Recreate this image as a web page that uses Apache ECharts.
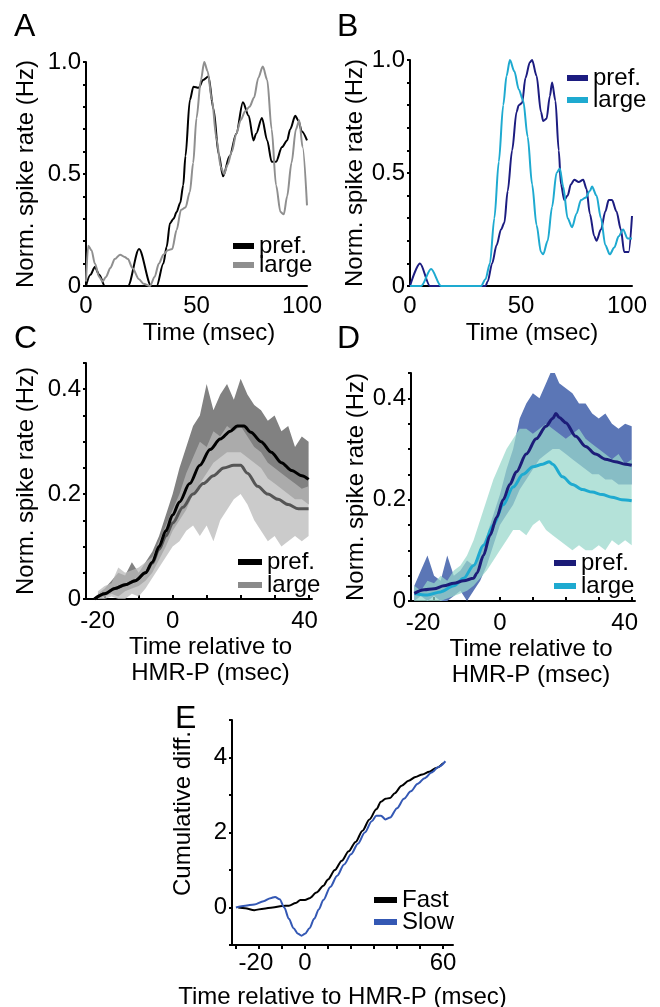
<!DOCTYPE html>
<html>
<head>
<meta charset="utf-8">
<script src="https://cdn.jsdelivr.net/npm/echarts@6/dist/echarts.min.js"></script>
<style>html,body{margin:0;padding:0;background:#fff}#c{width:660px;height:1007px}</style>
</head>
<body>
<div id="c"></div>
<script>
// ---------- DATA ----------
// Panel A (time, norm. rate)
const aPref = [[0,0],[2,0.05],[4,0.085],[6,0.05],[8.5,0],[19,0],[24,0.165],[29.5,0],[32,0],[35,0.1],[36.5,0.175],[38,0.28],[39.6,0.3],[41,0.33],[42.6,0.37],[44,0.45],[45,0.58],[47,0.83],[48.6,0.89],[51,0.885],[53,0.92],[55.4,0.935],[57.7,0.79],[60,0.59],[62,0.49],[65,0.58],[68,0.68],[71,0.82],[73.6,0.76],[75.8,0.65],[77,0.68],[79.6,0.75],[82,0.65],[84,0.555],[86,0.555],[88.7,0.62],[91,0.65],[92.4,0.7],[94.7,0.76],[96,0.74],[97.7,0.69],[100,0.65]];
const aLarge = [[0,0.02],[1,0.18],[2.5,0.16],[4,0.1],[6,0.04],[7.5,0.02],[9,0.04],[11,0.08],[13,0.12],[15.4,0.14],[17.5,0.13],[19,0.12],[21,0.08],[24,0.03],[26,0.01],[29,0],[31,0.04],[33,0.1],[35,0.14],[37,0.16],[39,0.165],[41,0.25],[43,0.34],[45,0.35],[47,0.42],[48.5,0.55],[50,0.75],[52,0.92],[53.5,1.0],[55,0.96],[57,0.83],[59,0.66],[61,0.53],[62.5,0.5],[64,0.54],[66,0.6],[68,0.68],[70,0.74],[72,0.78],[74,0.8],[76,0.84],[78,0.93],[80,0.98],[82,0.92],[84,0.7],[86,0.45],[88,0.33],[89.5,0.32],[91,0.4],[93,0.55],[95,0.7],[96.5,0.74],[98,0.62],[100,0.36]];
// Panel B
const bPref = [[0,0],[4.5,0.1],[9,0],[14,0],[34,0],[35,0.02],[37,0.1],[39,0.18],[41,0.25],[42.5,0.28],[44,0.42],[46,0.6],[48,0.77],[49,0.8],[50.5,0.81],[52,0.92],[54,0.99],[55,1.0],[57,0.93],[59,0.77],[60,0.73],[61.5,0.74],[63,0.84],[64,0.9],[65.5,0.82],[67,0.6],[68,0.45],[69.5,0.38],[71,0.4],[72.5,0.45],[74,0.47],[76,0.46],[78,0.47],[79.5,0.43],[81,0.32],[83,0.22],[84,0.2],[86,0.25],[88,0.33],[89.5,0.38],[91,0.38],[93,0.33],[95,0.25],[96.5,0.15],[98.5,0.15],[100,0.31]];
const bLarge = [[0,0],[5,0],[9.5,0.075],[14,0],[32,0],[34,0.03],[36,0.1],[38,0.3],[40,0.55],[42,0.8],[43.5,0.93],[45,1.0],[47,0.95],[49,0.87],[51,0.82],[53,0.66],[55,0.45],[57,0.27],[59,0.15],[60,0.14],[62,0.2],[64,0.35],[66,0.5],[67.5,0.52],[69,0.44],[71,0.3],[73,0.26],[75,0.32],[77,0.38],[79,0.39],[81,0.42],[82,0.44],[84,0.4],[86,0.3],[88,0.18],[90,0.14],[92,0.17],[94,0.22],[96,0.25],[98,0.21],[100,0.21]];
// Panel C: means and bands
const cPref = [[-23,0],[-20,0.01],[-17,0.02],[-14,0.027],[-11,0.035],[-8,0.05],[-6,0.07],[-4,0.1],[-2,0.13],[0,0.16],[2,0.185],[5,0.22],[8,0.255],[11,0.285],[14,0.305],[17,0.32],[19,0.33],[21,0.33],[23,0.318],[26,0.3],[29,0.28],[32,0.26],[35,0.245],[38,0.235],[40,0.228]];
const cLarge = [[-23,0],[-20,0.01],[-17,0.02],[-14,0.027],[-11,0.035],[-8,0.05],[-6,0.068],[-4,0.095],[-2,0.12],[0,0.145],[3,0.175],[6,0.2],[9,0.22],[12,0.235],[15,0.25],[18,0.255],[20,0.255],[22,0.24],[25,0.215],[28,0.2],[31,0.19],[34,0.18],[37,0.172],[40,0.172]];
const cBandT = [-22,-20,-18,-16,-14,-12,-10,-8,-6,-4,-2,0,2,4,6,8,10,12,14,16,18,20,22,24,26,28,30,32,34,36,38,40];
const cPrefHi = [0.01,0.02,0.035,0.05,0.045,0.07,0.05,0.07,0.09,0.12,0.16,0.2,0.25,0.29,0.33,0.35,0.41,0.36,0.39,0.41,0.38,0.42,0.39,0.37,0.36,0.34,0.35,0.32,0.33,0.29,0.31,0.30];
const cPrefLo = [0,0.005,0.01,0.005,0.015,0.02,0.025,0.035,0.05,0.075,0.1,0.13,0.15,0.17,0.2,0.22,0.24,0.26,0.27,0.28,0.28,0.28,0.27,0.26,0.25,0.23,0.22,0.21,0.2,0.19,0.19,0.18];
const cLargeHi = [0.015,0.025,0.03,0.06,0.05,0.055,0.06,0.07,0.08,0.11,0.14,0.17,0.2,0.24,0.27,0.30,0.29,0.32,0.31,0.33,0.32,0.33,0.31,0.29,0.28,0.26,0.25,0.24,0.23,0.22,0.21,0.215];
const cLargeLo = [0,0,0.005,0,0,0.01,0.005,0.02,0.04,0.06,0.08,0.1,0.11,0.13,0.14,0.12,0.14,0.11,0.15,0.17,0.19,0.2,0.18,0.15,0.13,0.11,0.12,0.1,0.11,0.12,0.11,0.12];
// Panel D: means and bands
const dPref = [[-26,0.015],[-23,0.022],[-20,0.024],[-17,0.03],[-14,0.035],[-11,0.04],[-8,0.045],[-7,0.055],[-5,0.09],[-3,0.13],[-1,0.165],[1,0.2],[3,0.23],[5,0.255],[8,0.29],[11,0.32],[14,0.345],[16,0.36],[17,0.37],[18,0.362],[20,0.352],[23,0.325],[26,0.305],[29,0.29],[32,0.28],[35,0.275],[38,0.27],[40,0.268]];
const dLarge = [[-26,0.015],[-22,0.012],[-18,0.018],[-14,0.03],[-11,0.045],[-8,0.07],[-5,0.11],[-2,0.15],[1,0.19],[4,0.225],[7,0.25],[10,0.265],[13,0.27],[15,0.275],[16,0.27],[19,0.245],[22,0.23],[25,0.22],[28,0.215],[31,0.21],[34,0.205],[37,0.2],[40,0.198]];
const dBandT = [-26,-24,-22,-20,-18,-16,-14,-12,-10,-8,-6,-4,-2,0,2,4,6,8,10,12,14,16,18,20,22,24,26,28,30,32,34,36,38,40];
const dPrefHi = [0.03,0.06,0.09,0.05,0.04,0.09,0.05,0.06,0.08,0.07,0.1,0.13,0.17,0.21,0.26,0.3,0.36,0.39,0.41,0.4,0.43,0.46,0.43,0.42,0.41,0.39,0.39,0.37,0.36,0.37,0.35,0.34,0.35,0.345];
const dPrefLo = [0,0.01,0,0.01,0,0,0.01,0.02,0,0.02,0.04,0.07,0.11,0.15,0.17,0.19,0.22,0.24,0.26,0.28,0.29,0.3,0.3,0.29,0.28,0.27,0.26,0.25,0.25,0.24,0.24,0.23,0.23,0.23];
const dLargeHi = [0.03,0.02,0.04,0.035,0.05,0.04,0.06,0.07,0.09,0.12,0.16,0.2,0.24,0.27,0.3,0.32,0.34,0.34,0.33,0.34,0.35,0.34,0.33,0.32,0.33,0.34,0.32,0.31,0.3,0.29,0.28,0.29,0.27,0.28];
const dLargeLo = [0,0,0,0,0,0.005,0.01,0.015,0.02,0.03,0.045,0.06,0.08,0.1,0.12,0.14,0.14,0.13,0.15,0.16,0.14,0.13,0.12,0.11,0.1,0.11,0.1,0.1,0.11,0.1,0.12,0.11,0.12,0.11];
// Panel E
const eFast = [[-29,0],[-26,-0.02],[-22,-0.07],[-18,-0.03],[-14,0],[-10,0.04],[-7,0.05],[-4,0.12],[-2,0.2],[0,0.2],[2,0.25],[5,0.4],[8,0.58],[10,0.75],[13,1.0],[16,1.25],[19,1.5],[22,1.75],[25,2.05],[28,2.35],[31,2.62],[33,2.82],[35,2.9],[37,2.92],[39,3.05],[42,3.25],[45,3.38],[48,3.48],[51,3.55],[54,3.62],[57,3.72],[60,3.85]];
const eSlow = [[-30,0],[-26,0.05],[-22,0.08],[-18,0.17],[-15,0.25],[-13,0.28],[-11,0.22],[-9,0],[-7,-0.3],[-5,-0.55],[-3,-0.7],[-1.5,-0.75],[0,-0.7],[2,-0.55],[4,-0.3],[6,-0.05],[8,0.2],[11,0.55],[14,0.85],[17,1.15],[20,1.42],[23,1.7],[26,2.0],[29,2.3],[31,2.45],[33,2.45],[35,2.35],[37,2.4],[40,2.65],[43,2.9],[46,3.1],[49,3.3],[52,3.45],[55,3.6],[58,3.75],[61,3.9]];
// Tick / label values
const abYTicks = [0,0.1,0.2,0.3,0.4,0.5,0.6,0.7,0.8,0.9,1.0];
const abYLabels = [0,0.5,1.0];
const abXLabels = [0,50,100];
const cdYTicks = [0,0.05,0.1,0.15,0.2,0.25,0.3,0.35,0.4,0.45];
const cdYLabels = [0,0.2,0.4];
const cdXTicks = [-20,-10,0,10,20,30,40];
const cdXLabels = [-20,0,40];
const eYTicks = [-1,0,1,2,3,4,5];
const eYLabels = [0,2,4];
const eXTicks = [-30,-20,-10,0,10,20,30,40,50,60];
const eXLabels = [-20,0,60];

// ---------- CHART ----------
const FONT = '"Liberation Sans", Arial, Helvetica, sans-serif';
const FS = 24;
const chart = echarts.init(document.getElementById('c'), null, {renderer:'canvas'});

const grids = [
  {left:86, top:62, width:221, height:224},
  {left:410, top:60, width:222, height:226},
  {left:86, top:363, width:226, height:236},
  {left:411, top:373, width:224, height:228},
  {left:232, top:720, width:221, height:225}
].map(g => Object.assign({outerBoundsMode:'none', containLabel:false, show:false}, g));

const axLine = {show:true, onZero:false, lineStyle:{color:'#000', width:2}};
// shifts: label value -> px to nudge the label left (as in the reference typesetting)
function xAx(i, min, max, ticks, labels, inside, margin, name, nameGap, padL, lh, shifts) {
  const rich = {};
  Object.values(shifts || {}).forEach(s => {
    rich['p' + s] = {padding:[0, 2*s, 0, 0], fontSize:FS, fontFamily:FONT, color:'#000'};
  });
  return {
    type:'value', gridIndex:i, min, max, splitLine:{show:false},
    axisLine:axLine,
    axisTick: ticks ? {show:true, customValues:ticks, inside, length:4, lineStyle:{color:'#000', width:2}} : {show:false},
    axisLabel:{customValues:labels, fontSize:FS, fontFamily:FONT, color:'#000', margin, rich,
      formatter: v => (shifts && shifts[v]) ? '{p' + shifts[v] + '|' + v + '}' : String(v)},
    name, nameLocation:'middle', nameGap,
    nameTextStyle:{fontSize:FS, fontFamily:FONT, color:'#000', lineHeight:lh||28, padding:[0,0,0,padL]}
  };
}
function yAx(i, min, max, ticks, labels, fmt, name, nameGap, padL) {
  return {
    type:'value', gridIndex:i, min, max, splitLine:{show:false},
    axisLine:axLine,
    axisTick:{show:true, customValues:ticks, length:3, lineStyle:{color:'#000', width:2}},
    axisLabel:{customValues:labels, fontSize:FS, fontFamily:FONT, color:'#000', margin:5, formatter:fmt},
    name, nameLocation:'middle', nameGap,
    nameTextStyle:{fontSize:FS, fontFamily:FONT, color:'#000', padding:[0,0,0,padL||0]}
  };
}
const fmt1 = v => v === 0 ? '0' : v.toFixed(1);
const fmt0 = v => String(v);
const nsr = 'Norm. spike rate (Hz)';
const trel = 'Time relative to\nHMR-P (msec)';

const xAxis = [
  xAx(0, 0, 100, null, abXLabels, false, 8, 'Time (msec)', 32, 25, 28, {100:5}),
  xAx(1, 0, 100, null, abXLabels, false, 8, 'Time (msec)', 32, 22, 28, {100:5}),
  xAx(2, -25.5, 41, cdXTicks, cdXLabels, true, 10, trel, 33, 23, 26, {'-20':7, 40:4}),
  xAx(3, -27, 41, cdXTicks, cdXLabels, true, 10, trel, 33, 16, 26, {'-20':11, 40:7}),
  xAx(4, -31.7, 64.3, eXTicks, eXLabels, false, 6, 'Time relative to HMR-P (msec)', 38, 0, 28, {'-20':3})
];
const yAxis = [
  yAx(0, 0, 1, abYTicks, abYLabels, fmt1, nsr, 48),
  yAx(1, 0, 1, abYTicks, abYLabels, fmt1, nsr, 43),
  yAx(2, 0, 0.45, cdYTicks, cdYLabels, fmt1, nsr, 48),
  yAx(3, 0, 0.45, cdYTicks, cdYLabels, fmt1, nsr, 43),
  yAx(4, -1, 5, eYTicks, eYLabels, fmt0, 'Cumulative diff.', 37, 38)
];

function lineS(name, i, data, color, width) {
  return {type:'line', name, xAxisIndex:i, yAxisIndex:i, data, color,
    smooth:0.3, smoothMonotone:'x', symbol:'none', showSymbol:false,
    lineStyle:{color, width}, emphasis:{disabled:true}, animation:false};
}
// confidence band: one polygon (upper edge forward, lower edge back) placed through the axes' scales
function band(id, i, t, lo, hi, color) {
  const data = t.map((x,k) => [x, lo[k], hi[k]]);
  return {
    type:'custom', name:id, xAxisIndex:i, yAxisIndex:i, data, silent:true, animation:false,
    encode:{x:0, y:[1,2]}, clip:true,
    renderItem: (params, api) => {
      if (params.dataIndex !== 0) return null;
      const pts = [];
      for (let k = 0; k < data.length; k++) pts.push(api.coord([data[k][0], data[k][2]]));
      for (let k = data.length - 1; k >= 0; k--) pts.push(api.coord([data[k][0], data[k][1]]));
      return {type:'polygon', shape:{points:pts}, style:{fill:color, stroke:null}};
    }
  };
}

const series = [
  lineS('A|pref.', 0, aPref, '#000000', 2),
  lineS('A|large', 0, aLarge, '#8f8f8f', 2),
  lineS('B|pref.', 1, bPref, '#1c1c80', 2),
  lineS('B|large', 1, bLarge, '#1eaad0', 2),
  band('cP', 2, cBandT, cPrefLo, cPrefHi, '#818181'),
  band('cL', 2, cBandT, cLargeLo, cLargeHi, 'rgba(185,185,185,0.75)'),
  lineS('C|large', 2, cLarge, '#555555', 3),
  lineS('C|pref.', 2, cPref, '#000000', 3),
  band('dP', 3, dBandT, dPrefLo, dPrefHi, '#5b76b6'),
  band('dL', 3, dBandT, dLargeLo, dLargeHi, 'rgba(152,215,203,0.73)'),
  lineS('D|large', 3, dLarge, '#1eaad0', 3),
  lineS('D|pref.', 3, dPref, '#1c1c78', 3),
  lineS('E|Fast', 4, eFast, '#000000', 2),
  lineS('E|Slow', 4, eSlow, '#3458b4', 2)
];

function leg(name, left, cy, w, color) {
  return {data:[{name, itemStyle:{color, borderWidth:0}}], left, top:cy-12, orient:'vertical', padding:0,
    icon:'rect', itemWidth:w, itemHeight:6, selectedMode:false,
    formatter: n => n.split('|')[1],
    textStyle:{fontSize:FS, fontFamily:FONT, color:'#000'}};
}
const legend = [
  leg('A|pref.', 233, 246, 21, '#000000'), leg('A|large', 233, 265, 21, '#8f8f8f'),
  leg('B|pref.', 567, 78, 21, '#1c1c80'), leg('B|large', 567, 100, 21, '#1eaad0'),
  leg('C|pref.', 238, 562, 24, '#000000'), leg('C|large', 238, 585, 24, '#8a8a8a'),
  leg('D|pref.', 554, 563, 22, '#1c1c78'), leg('D|large', 554, 586, 22, '#1eaad0'),
  leg('E|Fast', 374, 900, 23, '#000000'), leg('E|Slow', 374, 922, 23, '#3458b4')
];

const letter = (text, left, top) => ({text, left, top, padding:0,
  textStyle:{fontSize:32, fontWeight:'normal', fontFamily:FONT, color:'#000'}});
const title = [letter('A',14,11), letter('B',337,11), letter('C',14,323), letter('D',337,323), letter('E',175,703)];

chart.setOption({animation:false, backgroundColor:'#fff', title, legend, grid:grids, xAxis, yAxis, series});
</script>
</body>
</html>
